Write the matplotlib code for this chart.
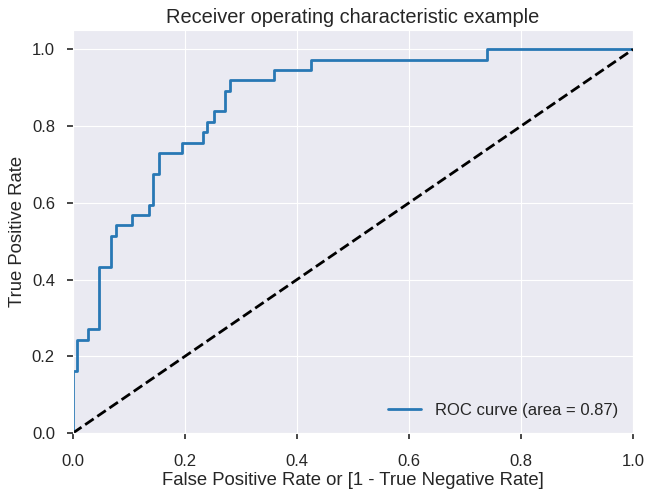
import matplotlib
matplotlib.use('Agg')
import matplotlib.pyplot as plt
import seaborn as sns

# ROC corner points
fpr = [0.0, 0.0, 0.007, 0.007, 0.027, 0.027, 0.047, 0.047, 0.067, 0.067,
       0.077, 0.077, 0.106, 0.106, 0.136, 0.136, 0.143, 0.143, 0.154, 0.154,
       0.195, 0.195, 0.233, 0.233, 0.240, 0.240, 0.252, 0.252, 0.271, 0.271,
       0.280, 0.280, 0.359, 0.359, 0.425, 0.425, 0.739, 0.739, 1.0]
tpr = [0.0, 0.162, 0.162, 0.243, 0.243, 0.270, 0.270, 0.432, 0.432, 0.514,
       0.514, 0.541, 0.541, 0.568, 0.568, 0.595, 0.595, 0.676, 0.676, 0.730,
       0.730, 0.757, 0.757, 0.784, 0.784, 0.811, 0.811, 0.838, 0.838, 0.892,
       0.892, 0.919, 0.919, 0.946, 0.946, 0.973, 0.973, 1.0, 1.0]
roc_auc = 0.87

sns.set_style('darkgrid', {'xtick.bottom': True, 'ytick.left': True})
plt.rcParams['font.family'] = ['Liberation Sans', 'DejaVu Sans']

fig = plt.figure(figsize=(6.46, 4.94), dpi=100)
ax = fig.add_axes([0.113, 0.1235, 0.867, 0.8155])

ax.plot(fpr, tpr, color='#2878b5', lw=2, label='ROC curve (area = %0.2f)' % roc_auc)
ax.plot([0, 1], [0, 1], color='black', lw=2, linestyle='--')

ax.set_xlim([0.0, 1.0])
ax.set_ylim([0.0, 1.05])
ax.tick_params(axis='both', colors='#262626', labelsize=12, length=4, width=1.2)
ax.tick_params(axis='x', pad=11)
ax.tick_params(axis='y', pad=9)
ax.set_xlabel('False Positive Rate or [1 - True Negative Rate]', fontsize=13.3,
              color='#262626', labelpad=2)
ax.set_ylabel('True Positive Rate', fontsize=13.3, color='#262626', labelpad=4)
ax.set_title('Receiver operating characteristic example', fontsize=14.4,
             color='#262626', pad=5)
ax.legend(loc='lower right', fontsize=12, frameon=False)

fig.savefig('out.png', dpi=100)
